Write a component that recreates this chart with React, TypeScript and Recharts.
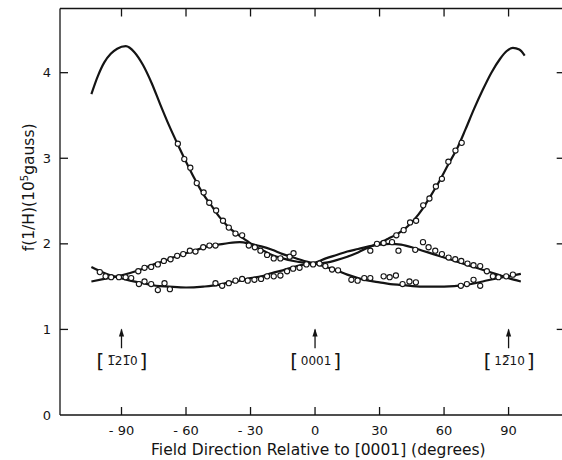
import React from 'react';
import { ComposedChart, Line, Scatter, XAxis, YAxis, ReferenceLine, ReferenceDot } from 'recharts';

type Pt = [number, number];

const INK = '#141414';
const FONT = '"DejaVu Sans", Verdana, sans-serif';

// axes
const xTicks = [-90, -60, -30, 0, 30, 60, 90];
const yTicks = [0, 1, 2, 3, 4];
const rightTicks = [1, 2, 3, 4];
const xDomain: [number, number] = [-118.6, 116.1];
const yDomain: [number, number] = [0, 4.75];

// fitted curves (degrees, 10^5 gauss)
const curveA: Pt[] = [
  [-104, 3.75], [-101, 3.96], [-98, 4.12], [-95, 4.22], [-92, 4.28], [-88, 4.31], [-84, 4.24],
  [-80, 4.09], [-76, 3.88], [-72, 3.63], [-68, 3.39], [-64, 3.17], [-60, 2.96], [-56, 2.76],
  [-52, 2.58], [-48, 2.44], [-44, 2.3], [-40, 2.19], [-36, 2.11], [-32, 2.04], [-28, 1.97],
  [-24, 1.92], [-20, 1.87], [-15, 1.83], [-10, 1.8], [-5, 1.78], [0, 1.77], [5, 1.78],
  [10, 1.81], [15, 1.85], [20, 1.9], [25, 1.96], [30, 2.01], [34, 2.06], [38, 2.11],
  [42, 2.18], [46, 2.28], [50, 2.41], [54, 2.57], [58, 2.74], [62, 2.93], [66, 3.11],
  [70, 3.34], [74, 3.58], [78, 3.8], [82, 4.0], [86, 4.16], [89, 4.25], [92, 4.29],
  [95, 4.27], [97.5, 4.2],
];

const curveB: Pt[] = [
  [-104, 1.56], [-98, 1.59], [-92, 1.62], [-86, 1.66], [-80, 1.71], [-75, 1.76], [-70, 1.8],
  [-65, 1.85], [-60, 1.89], [-55, 1.93], [-50, 1.97], [-45, 1.99], [-40, 2.01], [-35, 2.02],
  [-30, 2.0], [-25, 1.97], [-20, 1.93], [-15, 1.88], [-10, 1.84], [-5, 1.8], [0, 1.77],
  [5, 1.73], [10, 1.69], [15, 1.64], [20, 1.6], [25, 1.57], [30, 1.55], [35, 1.53],
  [40, 1.52], [50, 1.5], [60, 1.5], [70, 1.52], [78, 1.56], [85, 1.6], [90, 1.62], [95.7, 1.65],
];

const curveC: Pt[] = [
  [-104, 1.73], [-98, 1.66], [-92, 1.61], [-86, 1.57], [-80, 1.54], [-74, 1.51], [-68, 1.5],
  [-60, 1.49], [-52, 1.5], [-45, 1.52], [-40, 1.55], [-35, 1.57], [-30, 1.6], [-25, 1.62],
  [-20, 1.66], [-15, 1.69], [-10, 1.73], [-5, 1.76], [0, 1.78], [5, 1.83], [10, 1.87],
  [15, 1.91], [20, 1.94], [25, 1.97], [30, 1.99], [35, 2.0], [40, 1.99], [45, 1.96],
  [50, 1.92], [55, 1.88], [60, 1.84], [65, 1.8], [70, 1.76], [75, 1.72], [80, 1.68],
  [85, 1.64], [90, 1.6], [95.7, 1.56],
];

// measured points
const pointsA: Pt[] = [
  [-63.8, 3.17], [-60.8, 2.99], [-58, 2.89], [-55, 2.71], [-51.8, 2.6], [-49.2, 2.48],
  [-46, 2.39], [-42.8, 2.27], [-40.1, 2.19], [-37, 2.12], [-33.9, 2.1], [-30.8, 1.98],
  [-28, 1.96], [-25.4, 1.92], [-22.3, 1.87], [-19.2, 1.83], [-16.1, 1.83], [-11.8, 1.85],
  [-10, 1.89], [37.8, 2.1], [41.2, 2.16], [44.2, 2.25], [47, 2.27], [50.3, 2.45], [53.2, 2.53],
  [56.2, 2.67], [59, 2.76], [62, 2.96], [65.3, 3.09], [68.2, 3.18],
];

const pointsB: Pt[] = [
  [-100.1, 1.67], [-97.4, 1.62], [-94.8, 1.61], [-91.2, 1.61], [-88.1, 1.61], [-85.5, 1.6],
  [-82.2, 1.68], [-79.3, 1.72], [-76.2, 1.73], [-73.1, 1.76], [-70.3, 1.8], [-67.2, 1.82],
  [-64.1, 1.86], [-61.3, 1.88], [-58.2, 1.92], [-55.6, 1.91], [-52, 1.96], [-49.1, 1.98],
  [-46.3, 1.98], [2.1, 1.77], [4.8, 1.74], [7.9, 1.7], [10.7, 1.69], [16.9, 1.58], [19.8, 1.57],
  [22.9, 1.6], [25.7, 1.6], [31.9, 1.62], [34.7, 1.61], [37.6, 1.63], [40.7, 1.53], [43.9, 1.56],
  [46.9, 1.55], [67.8, 1.51], [70.6, 1.53], [73.7, 1.58], [76.8, 1.51],
];

const pointsC: Pt[] = [
  [-81.9, 1.53], [-79.3, 1.56], [-76.2, 1.53], [-73.1, 1.46], [-70, 1.54], [-67.5, 1.47],
  [-46.3, 1.54], [-43.2, 1.51], [-40.1, 1.54], [-37, 1.57], [-33.9, 1.59], [-31.3, 1.57],
  [-28.2, 1.58], [-25.1, 1.59], [-22.3, 1.62], [-19.2, 1.62], [-16.1, 1.63], [-13, 1.68],
  [-10.2, 1.71], [-7.2, 1.72], [-4, 1.76], [-0.9, 1.76], [25.7, 1.92], [28.8, 2.0], [31.9, 2.01],
  [35.8, 2.02], [38.8, 1.92], [46.6, 1.93], [50.2, 2.02], [52.8, 1.96], [55.9, 1.92], [59, 1.88],
  [62.1, 1.84], [65.2, 1.82], [68, 1.8], [70.9, 1.77], [73.7, 1.75], [76.8, 1.74], [79.9, 1.68],
  [82.7, 1.62], [85.3, 1.61], [88.9, 1.62], [92, 1.64],
];

// crystal direction markers
const arrowX = [-90, 0, 90];
const arrowLabels = ['1\u030521\u03050', '0001', '12\u030510'];
const arrowFrom = 0.78;
const arrowTo = 1.0;
const labelY = 0.63;

const rows = (pts: Pt[]) => pts.map(([x, y]) => ({ x, y }));
const fmtX = (v: number) => (v < 0 ? `- ${-v}` : `${v}`);

// chart box
const W = 570;
const H = 460;
const M = { top: 8.5, right: 5.3, bottom: 0, left: 30 };
const Y_AXIS_W = 30;
const X_AXIS_H = 45;
const plotW = W - M.left - M.right - Y_AXIS_W;
const plotH = H - M.top - M.bottom - X_AXIS_H;

// inward ticks, 8px long; anchors sit one tick length inside the frame
const TICK_PX = 8;
const tickDx = (TICK_PX * (xDomain[1] - xDomain[0])) / plotW;
const tickDy = (TICK_PX * (yDomain[1] - yDomain[0])) / plotH;

type TickSpec = { x: number; y: number; dx: number; dy: number };
const frameTicks: TickSpec[] = [
  ...xTicks.map((t) => ({ x: t, y: yDomain[0] + tickDy, dx: 0, dy: 1 })),
  ...xTicks.map((t) => ({ x: t, y: yDomain[1] - tickDy, dx: 0, dy: -1 })),
  ...yTicks.slice(1).map((t) => ({ x: xDomain[0] + tickDx, y: t, dx: -1, dy: 0 })),
  ...rightTicks.map((t) => ({ x: xDomain[1] - tickDx, y: t, dx: 1, dy: 0 })),
];

const TickMark = ({ cx, cy, dx, dy }: any) => (
  <line
    x1={cx}
    y1={cy}
    x2={cx + dx * TICK_PX}
    y2={cy + dy * TICK_PX}
    stroke={INK}
    strokeWidth={1.3}
  />
);

// top and right edges of the frame, drawn from the inner top-left anchor
const FrameEdges = ({ cx, cy }: any) => {
  const left = cx - TICK_PX;
  const top = cy - TICK_PX;
  return (
    <g stroke={INK} strokeWidth={1.3} fill="none">
      <line x1={left} y1={top} x2={left + plotW} y2={top} />
      <line x1={left + plotW} y1={top} x2={left + plotW} y2={top + plotH} />
    </g>
  );
};

const Ring = (props: any) => (
  <circle cx={props.cx} cy={props.cy} r={2.6} fill="#fff" stroke={INK} strokeWidth={1.1} />
);

const ArrowHead = (props: any) => {
  const { cx, cy } = props;
  return <path d={`M${cx},${cy - 1} L${cx - 2.6},${cy + 7} L${cx + 2.6},${cy + 7} Z`} fill={INK} />;
};

const BracketLabel = ({ cx, cy, text }: any) => (
  <g fill={INK} fontFamily={FONT}>
    <text x={cx - 21} y={cy + 6.5} fontSize={20} textAnchor="middle">[</text>
    <text x={cx + 1} y={cy + 4} fontSize={12} textAnchor="middle">{text}</text>
    <text x={cx + 22} y={cy + 6.5} fontSize={20} textAnchor="middle">]</text>
  </g>
);

const YTitle = (props: any) => {
  const vb = props.viewBox ?? { x: M.left, y: M.top, width: Y_AXIS_W, height: plotH };
  const x = vb.x + 4;
  const y = vb.y + vb.height * 0.44;
  return (
    <text
      x={x}
      y={y}
      transform={`rotate(-90, ${x}, ${y})`}
      textAnchor="middle"
      fontSize={15.5}
      fontFamily={FONT}
      fill={INK}
    >
      f(1/H)(10<tspan fontSize={10} dy={-6}>5</tspan>
      <tspan dy={6}>gauss)</tspan>
    </text>
  );
};

const tickStyle = { fontSize: 13, fill: INK, fontFamily: FONT };
const seg = (x1: number, y1: number, x2: number, y2: number) => [{ x: x1, y: y1 }, { x: x2, y: y2 }];

export default function App() {
  return (
    <div
      style={{
        position: 'absolute',
        left: 0,
        top: 0,
        width: 562,
        height: 460,
        overflow: 'hidden',
        background: '#fff',
        fontFamily: FONT,
      }}
    >
      <ComposedChart width={W} height={H} margin={M}>
        <XAxis
          type="number"
          dataKey="x"
          domain={xDomain}
          ticks={xTicks}
          interval={0}
          tickFormatter={fmtX}
          height={X_AXIS_H}
          tickSize={0}
          tickMargin={11}
          tick={tickStyle}
          tickLine={false}
          stroke={INK}
          strokeWidth={1.3}
          label={{
            value: 'Field Direction Relative to [0001] (degrees)',
            position: 'insideBottom',
            offset: 5,
            dx: 6,
            fontSize: 15.5,
            fill: INK,
            fontFamily: FONT,
          }}
        />
        <YAxis
          type="number"
          dataKey="y"
          domain={yDomain}
          ticks={yTicks}
          interval={0}
          width={Y_AXIS_W}
          tickSize={0}
          tickMargin={9}
          tick={tickStyle}
          tickLine={false}
          stroke={INK}
          strokeWidth={1.3}
          label={<YTitle />}
        />

        {[curveA, curveB, curveC].map((c, i) => (
          <Line
            key={`c${i}`}
            data={rows(c)}
            dataKey="y"
            type="monotone"
            stroke={INK}
            strokeWidth={2.2}
            dot={false}
            activeDot={false}
            isAnimationActive={false}
          />
        ))}

        {[pointsA, pointsB, pointsC].map((p, i) => (
          <Scatter key={`p${i}`} data={rows(p)} shape={Ring} isAnimationActive={false} />
        ))}

        {arrowX.map((ax, i) => (
          <ReferenceLine
            key={`s${i}`}
            segment={seg(ax, arrowFrom, ax, arrowTo)}
            stroke={INK}
            strokeWidth={1.3}
          />
        ))}
        {arrowX.map((ax, i) => (
          <ReferenceDot key={`h${i}`} x={ax} y={arrowTo} shape={ArrowHead} />
        ))}
        {arrowX.map((ax, i) => (
          <ReferenceDot
            key={`l${i}`}
            x={ax}
            y={labelY}
            shape={(p: any) => <BracketLabel {...p} text={arrowLabels[i]} />}
          />
        ))}

        {frameTicks.map((t, i) => (
          <ReferenceDot
            key={`t${i}`}
            x={t.x}
            y={t.y}
            shape={(p: any) => <TickMark {...p} dx={t.dx} dy={t.dy} />}
          />
        ))}
        <ReferenceDot
          x={xDomain[0] + tickDx}
          y={yDomain[1] - tickDy}
          shape={(p: any) => <FrameEdges {...p} />}
        />
      </ComposedChart>
    </div>
  );
}
